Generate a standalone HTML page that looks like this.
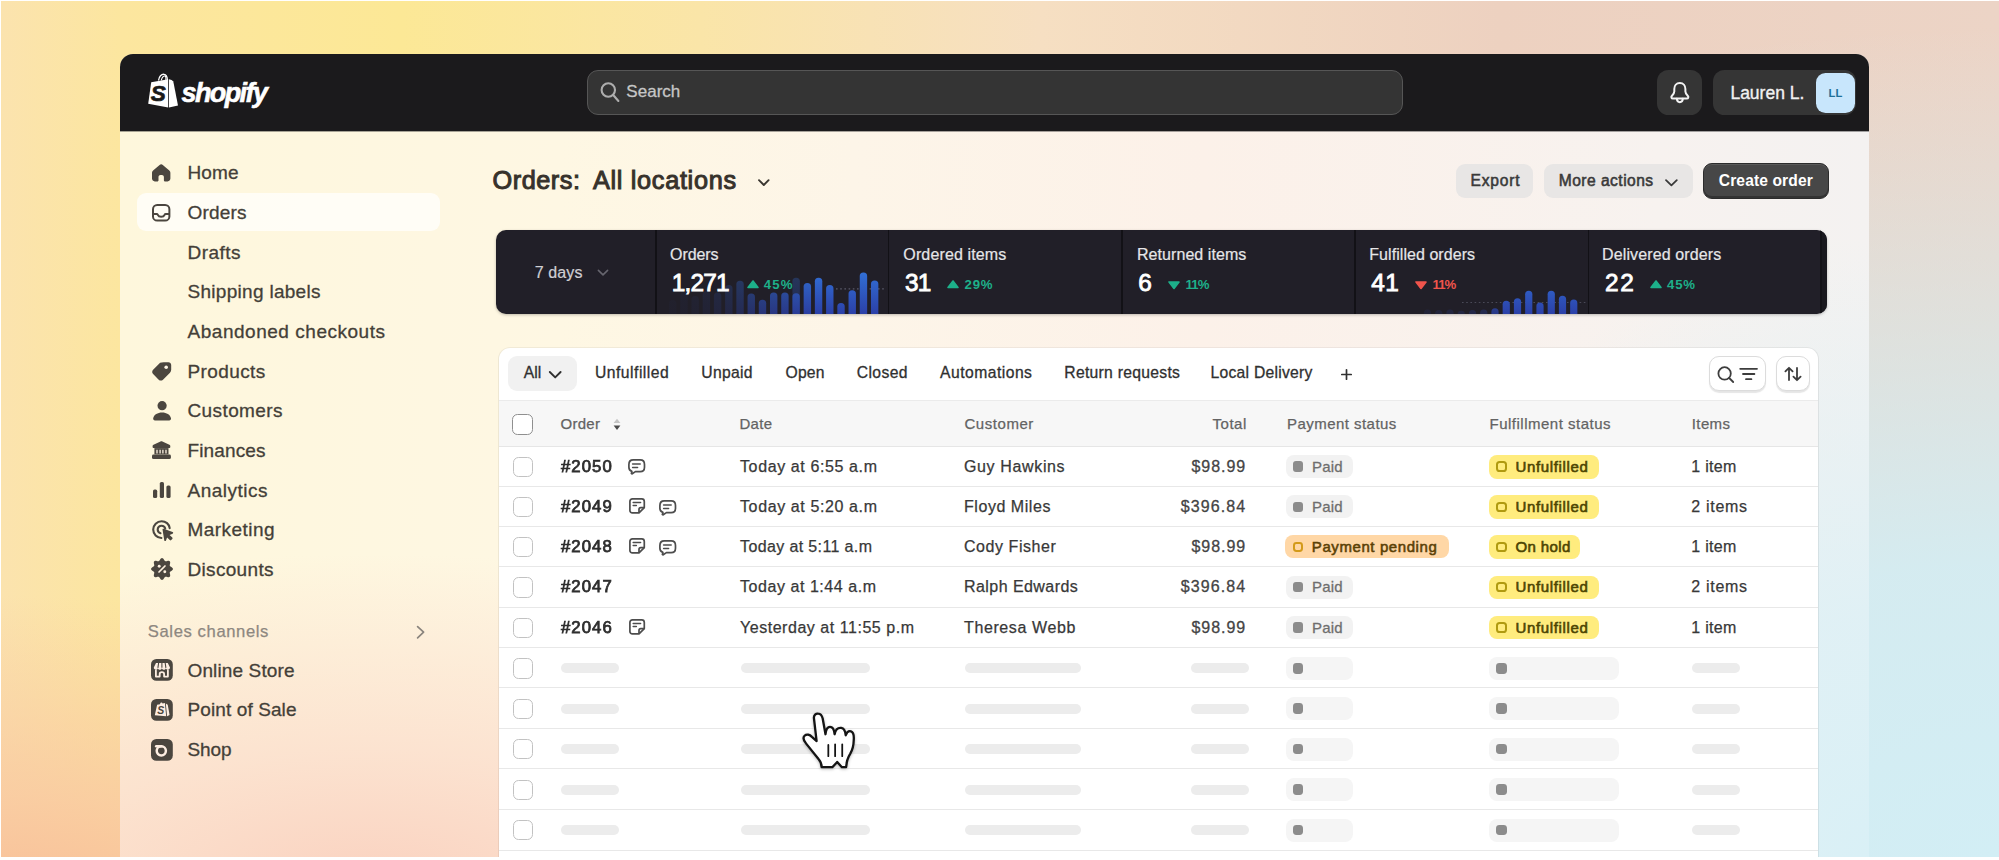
<!DOCTYPE html>
<html lang="en">
<head>
<meta charset="utf-8">
<title>Orders - Shopify</title>
<style>
*{box-sizing:border-box;margin:0;padding:0}
html,body{width:1999px;height:860px;overflow:hidden;background:#fff}
body{font-family:"Liberation Sans",sans-serif;color:#303030;position:relative}
#bg{position:absolute;left:1px;top:1px;width:1998px;height:856px;overflow:hidden;
 background:
  radial-gradient(ellipse 700px 330px at 0% 108%, rgba(248,188,150,1) 0%, rgba(249,200,160,.8) 40%, rgba(250,218,170,0) 100%),
  radial-gradient(ellipse 1300px 830px at 100% 100%, rgba(210,238,245,1) 0%, rgba(210,238,245,.9) 35%, rgba(210,238,245,0) 100%),
  linear-gradient(to right,#fbe3ae 0%,#fce69f 6%,#fce896 20%,#fae5a8 35%,#f6dfc2 52%,#edd1c0 75%,#ecd4c6 100%)}
#win{position:absolute;left:120px;top:54px;width:1749px;height:803px;border-radius:13px 13px 0 0;overflow:hidden;
 background:
  radial-gradient(ellipse 820px 330px at 250px 830px, rgba(250,210,192,1) 0%, rgba(251,218,201,.7) 40%, rgba(253,232,214,0) 100%),
  radial-gradient(ellipse 520px 620px at 100% 806px, rgba(217,240,246,1) 0%, rgba(219,240,246,.8) 40%, rgba(225,242,247,0) 100%),
  linear-gradient(to right,#fef7dc 0%,#fef7e3 25%,#fdf5e8 42%,#fcf1e9 62%,#f7f2ef 88%,#f4f2f1 100%)}
#pg{position:absolute;left:-120px;top:-54px;width:1999px;height:860px}
.t{position:absolute;white-space:pre;line-height:20px;height:20px}
.b{position:absolute;display:block}
svg{overflow:visible}
</style>
</head>
<body>
<div id="bg"></div>
<div id="win"><div id="pg">
<div class="b" style="left:120.00px;top:54.00px;width:1749.00px;height:77.00px;background:#1b1a1c"></div>
<div class="b" style="left:120.00px;top:131.00px;width:1749.00px;height:1.00px;background:rgba(27,26,28,.38)"></div>
<svg class="b" style="left:147.00px;top:72.00px" width="32" height="38" viewBox="0 0 32 38" >
<path d="M11.5 8.5 C12 4.5 14.5 2 17 2.3 C19.2 2.6 20.3 5 20.4 8" fill="none" stroke="#fff" stroke-width="1.3"/>
<path d="M14.3 8.3 C15 5.2 16.6 3.6 18 4 C19 4.4 19 6.4 18.9 8" fill="none" stroke="#fff" stroke-width="1.1"/>
<path d="M4.2 10.2 L21.2 7.2 L21.2 35.6 L1.2 31.8 Z" fill="#fff"/>
<path d="M22 7.3 L24.6 7.9 L26.3 9.4 L31 33.6 L22 35.5 Z" fill="#fff"/>
<text x="11.2" y="29.4" text-anchor="middle" font-family="Liberation Sans, sans-serif" font-weight="bold" font-style="italic" font-size="22.5" fill="#1a1a1a" stroke="#1a1a1a" stroke-width=".7">S</text>
</svg>
<div class="t" style="left:181.5px;top:77.5px;height:30px;font:italic bold 27px/30px 'Liberation Sans',sans-serif;color:#fff;letter-spacing:-1.6px;-webkit-text-stroke:.6px #fff">shopify</div>
<div class="b" style="left:587.00px;top:70.00px;width:815.50px;height:45.30px;border-radius:11px;background:#343434;border:1.5px solid #565656"></div>
<svg class="b" style="left:598.00px;top:80.00px" width="24" height="24" viewBox="0 0 24 24" fill="none" stroke="#adadad" stroke-width="2.1" stroke-linecap="round"><circle cx="10.3" cy="10" r="6.7"/><path d="M15.2 15 L20.4 21"/></svg>
<div class="t" style="font-size:17px;color:#c6c6c6;top:81.61px;letter-spacing:0.028px;-webkit-text-stroke:0.3px #c6c6c6;left:626.30px;">Search</div>
<div class="b" style="left:1656.80px;top:70.20px;width:45.40px;height:45.00px;border-radius:11.5px;background:#353535"></div>
<svg class="b" style="left:1669.80px;top:82.40px" width="19.7" height="21.3" viewBox="0 0 19.7 21.3" fill="none" stroke="#f3f3f3" stroke-width="2" stroke-linecap="round" stroke-linejoin="round"><path d="M9.85 1.1 C6.2 1.1 4.3 3.8 4.3 7 V9.6 C4.3 11.4 3.4 12.4 2 13.8 C0.8 15 1.4 16.4 2.8 16.4 H16.9 C18.3 16.4 18.9 15 17.7 13.8 C16.3 12.4 15.4 11.4 15.4 9.6 V7 C15.4 3.8 13.5 1.1 9.85 1.1 Z"/><path d="M6.9 16.8 C7 19 8.4 20.2 9.85 20.2 C11.3 20.2 12.7 19 12.8 16.8"/></svg>
<div class="b" style="left:1713.30px;top:70.20px;width:143.00px;height:45.00px;border-radius:11.5px;background:#353535"></div>
<div class="t" style="font-size:17.5px;color:#f1f1f1;top:82.84px;letter-spacing:0.007px;-webkit-text-stroke:0.35px #f1f1f1;left:1730.40px;">Lauren L.</div>
<div class="b" style="left:1815.60px;top:73.00px;width:39.60px;height:39.60px;border-radius:9.5px;background:#c8e6fc"></div>
<div class="t" style="font-size:11.2px;color:#1f7099;top:82.92px;letter-spacing:0.400px;font-weight:bold;left:1828.40px;">LL</div>
<div class="b" style="left:136.50px;top:193.00px;width:303.00px;height:38.30px;border-radius:9px;background:rgba(255,255,255,.7)"></div>
<div class="t" style="font-size:19px;color:#443f38;top:163.32px;letter-spacing:0.107px;-webkit-text-stroke:0.3px #443f38;left:187.50px;">Home</div>
<div class="t" style="font-size:19px;color:#443f38;top:202.97px;letter-spacing:0.187px;-webkit-text-stroke:0.3px #443f38;left:187.50px;">Orders</div>
<div class="t" style="font-size:19px;color:#443f38;top:242.62px;letter-spacing:0.466px;-webkit-text-stroke:0.3px #443f38;left:187.50px;">Drafts</div>
<div class="t" style="font-size:19px;color:#443f38;top:282.27px;letter-spacing:0.295px;-webkit-text-stroke:0.3px #443f38;left:187.50px;">Shipping labels</div>
<div class="t" style="font-size:19px;color:#443f38;top:321.92px;letter-spacing:0.527px;-webkit-text-stroke:0.3px #443f38;left:187.50px;">Abandoned checkouts</div>
<div class="t" style="font-size:19px;color:#443f38;top:361.57px;letter-spacing:0.403px;-webkit-text-stroke:0.3px #443f38;left:187.50px;">Products</div>
<div class="t" style="font-size:19px;color:#443f38;top:401.22px;letter-spacing:0.394px;-webkit-text-stroke:0.3px #443f38;left:187.50px;">Customers</div>
<div class="t" style="font-size:19px;color:#443f38;top:440.87px;letter-spacing:0.130px;-webkit-text-stroke:0.3px #443f38;left:187.50px;">Finances</div>
<div class="t" style="font-size:19px;color:#443f38;top:480.52px;letter-spacing:0.497px;-webkit-text-stroke:0.3px #443f38;left:187.50px;">Analytics</div>
<div class="t" style="font-size:19px;color:#443f38;top:520.17px;letter-spacing:0.448px;-webkit-text-stroke:0.3px #443f38;left:187.50px;">Marketing</div>
<div class="t" style="font-size:19px;color:#443f38;top:559.82px;letter-spacing:0.323px;-webkit-text-stroke:0.3px #443f38;left:187.50px;">Discounts</div>
<div class="t" style="font-size:19px;color:#443f38;top:660.52px;letter-spacing:0.127px;-webkit-text-stroke:0.3px #443f38;left:187.50px;">Online Store</div>
<div class="t" style="font-size:19px;color:#443f38;top:700.12px;letter-spacing:0.106px;-webkit-text-stroke:0.3px #443f38;left:187.50px;">Point of Sale</div>
<div class="t" style="font-size:19px;color:#443f38;top:739.72px;letter-spacing:-0.124px;-webkit-text-stroke:0.3px #443f38;left:187.50px;">Shop</div>
<div class="t" style="font-size:16.6px;color:#8d8780;top:621.75px;letter-spacing:0.617px;-webkit-text-stroke:0.25px #8d8780;left:147.80px;">Sales channels</div>
<svg class="b" style="left:415.00px;top:625.00px" width="12" height="14" viewBox="0 0 12 14" fill="none" stroke="#8a847d" stroke-width="1.7" stroke-linecap="round" stroke-linejoin="round"><path d="M2.6 1.6 L8.6 7.2 L2.6 12.8"/></svg>
<svg class="b" style="left:152.40px;top:163.60px" width="18.4" height="17.4" viewBox="0 0 18.4 17.4" ><path fill="#4b463f" d="M9.2 0.2 C9.8 0.2 10.3 0.5 10.8 0.9 L17.3 6.5 C18 7.1 18.4 7.9 18.4 8.8 V14.6 C18.4 16.2 17.2 17.4 15.6 17.4 H12.7 C12.2 17.4 11.9 17.1 11.9 16.6 V12.9 C11.9 11.8 11 10.9 9.9 10.9 H8.5 C7.4 10.9 6.5 11.8 6.5 12.9 V16.6 C6.5 17.1 6.2 17.4 5.7 17.4 H2.8 C1.2 17.4 0 16.2 0 14.6 V8.8 C0 7.9 0.4 7.1 1.1 6.5 L7.6 0.9 C8.1 0.5 8.6 0.2 9.2 0.2 Z"/></svg>
<svg class="b" style="left:152.40px;top:204.20px" width="18.4" height="17.6" viewBox="0 0 18.4 17.6" ><rect x="1" y="1" width="16.4" height="15.6" rx="4.2" fill="none" stroke="#4b463f" stroke-width="2"/><path d="M1 10 H4.6 C5.2 10 5.6 10.3 5.8 10.8 C6.3 12 7.5 12.8 9.2 12.8 C10.9 12.8 12.1 12 12.6 10.8 C12.8 10.3 13.2 10 13.8 10 H17.4" fill="none" stroke="#4b463f" stroke-width="2"/></svg>
<svg class="b" style="left:152.20px;top:361.80px" width="19.4" height="18.8" viewBox="0 0 19.4 18.8" ><path fill="#4b463f" d="M11.6 0.2 H16.4 C18 0.2 19.2 1.4 19.2 3 V7.8 C19.2 8.9 18.8 9.9 18 10.7 L11 17.7 C9.8 18.9 7.9 18.9 6.7 17.7 L1.1 12.1 C-0.1 10.9 -0.1 9 1.1 7.8 L8.1 0.8 C9 0.4 10.4 0.2 11.6 0.2 Z"/><circle cx="14.2" cy="5.2" r="1.8" fill="#fef6e6"/></svg>
<svg class="b" style="left:152.60px;top:401.00px" width="18.2" height="19.6" viewBox="0 0 18.2 19.6" ><circle cx="9.1" cy="4.7" r="4.6" fill="#4b463f"/><path fill="#4b463f" d="M9.1 11.6 C13.6 11.6 17.2 13.8 18 17.3 C18.3 18.5 17.4 19.5 16.2 19.5 H2 C0.8 19.5 -0.1 18.5 0.2 17.3 C1 13.8 4.6 11.6 9.1 11.6 Z"/></svg>
<svg class="b" style="left:152.20px;top:440.60px" width="18.9" height="18" viewBox="0 0 18.9 18" ><path fill="#4b463f" d="M8.5 0.4 C9.1 0.1 9.8 0.1 10.4 0.4 L17.4 3.7 C18 4 18.3 4.5 18.3 5.1 V6 C18.3 6.6 17.8 7.1 17.2 7.1 H1.7 C1.1 7.1 0.6 6.6 0.6 6 V5.1 C0.6 4.5 0.9 4 1.5 3.7 Z"/><path fill="#4b463f" d="M2.4 7.1 H16.5 V13.4 H2.4 Z"/><path d="M5 8.8 V12.6 M8.1 8.8 V12.6 M10.9 8.8 V12.6 M14 8.8 V12.6" stroke="#fdf3e2" stroke-width="1.3"/><rect x="0" y="13.6" width="18.9" height="4.3" rx="1.5" fill="#4b463f"/></svg>
<svg class="b" style="left:152.60px;top:481.80px" width="17.6" height="16" viewBox="0 0 17.6 16" ><rect x="0" y="7.6" width="4.2" height="8.4" rx="1.6" fill="#4b463f"/><rect x="6.8" y="0" width="4.2" height="16" rx="1.6" fill="#4b463f"/><rect x="13.4" y="3.4" width="4.2" height="12.6" rx="1.6" fill="#4b463f"/></svg>
<svg class="b" style="left:151.60px;top:519.60px" width="21.4" height="21" viewBox="0 0 21.4 21" ><path d="M17.7 8.2 C17.2 4.1 13.8 1.2 9.6 1.2 C5 1.2 1.2 5 1.2 9.6 C1.2 14.2 4.9 17.9 9.4 18" fill="none" stroke="#4b463f" stroke-width="2.1" stroke-linecap="round"/><path d="M13.2 8.6 C12.8 6.9 11.3 5.7 9.6 5.7 C7.4 5.7 5.7 7.4 5.7 9.6 C5.7 11.4 6.9 12.9 8.5 13.3" fill="none" stroke="#4b463f" stroke-width="2.1" stroke-linecap="round"/><path fill="#4b463f" d="M10.6 9.9 C10.3 9.2 11 8.5 11.7 8.8 L20.6 12.1 C21.4 12.4 21.4 13.5 20.6 13.8 L17.6 14.9 L20.3 17.6 C20.7 18 20.7 18.6 20.3 19 L19.2 20.1 C18.8 20.5 18.2 20.5 17.8 20.1 L15.1 17.4 L14 20.4 C13.7 21.2 12.6 21.2 12.3 20.4 Z"/></svg>
<svg class="b" style="left:150.80px;top:558.00px" width="22" height="22" viewBox="0 0 22 22" ><path fill="#4b463f" d="M11.00 0.05 L11.57 0.17 L12.10 0.52 L12.58 1.04 L12.99 1.64 L13.35 2.23 L13.68 2.74 L14.04 3.09 L14.45 3.26 L14.94 3.26 L15.54 3.14 L16.21 2.97 L16.93 2.84 L17.63 2.81 L18.25 2.94 L18.74 3.26 L19.06 3.75 L19.19 4.37 L19.16 5.07 L19.03 5.79 L18.86 6.46 L18.74 7.06 L18.74 7.55 L18.91 7.96 L19.26 8.32 L19.77 8.65 L20.36 9.01 L20.96 9.42 L21.48 9.90 L21.83 10.43 L21.95 11.00 L21.83 11.57 L21.48 12.10 L20.96 12.58 L20.36 12.99 L19.77 13.35 L19.26 13.68 L18.91 14.04 L18.74 14.45 L18.74 14.94 L18.86 15.54 L19.03 16.21 L19.16 16.93 L19.19 17.63 L19.06 18.25 L18.74 18.74 L18.25 19.06 L17.63 19.19 L16.93 19.16 L16.21 19.03 L15.54 18.86 L14.94 18.74 L14.45 18.74 L14.04 18.91 L13.68 19.26 L13.35 19.77 L12.99 20.36 L12.58 20.96 L12.10 21.48 L11.57 21.83 L11.00 21.95 L10.43 21.83 L9.90 21.48 L9.42 20.96 L9.01 20.36 L8.65 19.77 L8.32 19.26 L7.96 18.91 L7.55 18.74 L7.06 18.74 L6.46 18.86 L5.79 19.03 L5.07 19.16 L4.37 19.19 L3.75 19.06 L3.26 18.74 L2.94 18.25 L2.81 17.63 L2.84 16.93 L2.97 16.21 L3.14 15.54 L3.26 14.94 L3.26 14.45 L3.09 14.04 L2.74 13.68 L2.23 13.35 L1.64 12.99 L1.04 12.58 L0.52 12.10 L0.17 11.57 L0.05 11.00 L0.17 10.43 L0.52 9.90 L1.04 9.42 L1.64 9.01 L2.23 8.65 L2.74 8.32 L3.09 7.96 L3.26 7.55 L3.26 7.06 L3.14 6.46 L2.97 5.79 L2.84 5.07 L2.81 4.37 L2.94 3.75 L3.26 3.26 L3.75 2.94 L4.37 2.81 L5.07 2.84 L5.79 2.97 L6.46 3.14 L7.06 3.26 L7.55 3.26 L7.96 3.09 L8.32 2.74 L8.65 2.23 L9.01 1.64 L9.42 1.04 L9.90 0.52 L10.43 0.17 Z"/><path d="M8 14 L14 8" stroke="#fdf1e0" stroke-width="1.7" stroke-linecap="round"/><circle cx="8.2" cy="8.3" r="1.45" fill="#fdf1e0"/><circle cx="13.8" cy="13.7" r="1.45" fill="#fdf1e0"/></svg>
<svg class="b" style="left:150.80px;top:659.40px" width="21.8" height="21.8" viewBox="0 0 21.8 21.8" ><rect width="21.8" height="21.8" rx="5.4" fill="#4b463f"/><path d="M5 3.9 H16.8 L19 8.6 C19 9.9 18 10.8 16.9 10.8 C15.8 10.8 14.9 10 14.9 9 C14.9 10 14 10.8 12.9 10.8 C11.8 10.8 10.9 10 10.9 9 C10.9 10 10 10.8 8.9 10.8 C7.8 10.8 6.9 10 6.9 9 C6.9 10 6 10.8 4.9 10.8 C3.8 10.8 2.8 9.9 2.8 8.6 Z" fill="#fdeee2"/><path d="M7.6 4 L6.9 8.8 M10.9 4 V8.8 M14.2 4 L14.9 8.8" stroke="#4b463f" stroke-width="1.1"/><path d="M4.9 11.4 V17.6 H8.7 V15 C8.7 13.9 9.6 13.2 10.9 13.2 C12.2 13.2 13.1 13.9 13.1 15 V17.6 H16.9 V11.4" fill="none" stroke="#fdeee2" stroke-width="1.8" stroke-linejoin="round" stroke-linecap="round"/></svg>
<svg class="b" style="left:150.80px;top:699.00px" width="21.8" height="21.8" viewBox="0 0 21.8 21.8" ><rect width="21.8" height="21.8" rx="5.4" fill="#4b463f"/><path d="M6.1 5.8 L9 5.2 C9.2 4.2 9.8 3.6 10.4 3.6 C11 3.6 11.4 4 11.6 4.6 L13.9 4.1 L15.2 17.3 L3.8 16.2 Z" fill="#fdeee2"/><path d="M14.8 4.4 L16.7 5.8 L18.6 15.9 L16.1 17.2 Z" fill="#fdeee2"/><text x="9.7" y="14.6" text-anchor="middle" font-family="Liberation Sans, sans-serif" font-weight="bold" font-style="italic" font-size="10.5" fill="#4b463f">S</text></svg>
<svg class="b" style="left:150.80px;top:738.60px" width="21.8" height="21.8" viewBox="0 0 21.8 21.8" ><rect width="21.8" height="21.8" rx="5.4" fill="#4b463f"/><circle cx="10.3" cy="11.8" r="4.6" fill="none" stroke="#fdeee2" stroke-width="2.5"/><path d="M5.2 7.2 H10.3" stroke="#fdeee2" stroke-width="2.5" stroke-linecap="round"/></svg>
<div class="t" style="font-size:25.3px;color:#37322b;top:170.43px;letter-spacing:0.526px;-webkit-text-stroke:1.0px #37322b;left:492.50px;">Orders:</div>
<div class="t" style="font-size:25.3px;color:#37322b;top:170.43px;letter-spacing:0.684px;-webkit-text-stroke:1.0px #37322b;left:592.90px;">All locations</div>
<svg class="b" style="left:757.00px;top:178.00px" width="14" height="10" viewBox="0 0 14 10" fill="none" stroke="#3b3731" stroke-width="1.9" stroke-linecap="round" stroke-linejoin="round"><path d="M2 2.2 L6.8 7 L11.6 2.2"/></svg>
<div class="b" style="left:1456.40px;top:163.70px;width:77.10px;height:34.60px;border-radius:9px;background:#e8e6e5"></div>
<div class="t" style="font-size:15.6px;color:#3a3a3a;top:170.69px;letter-spacing:0.783px;-webkit-text-stroke:0.55px #3a3a3a;left:1470.50px;">Export</div>
<div class="b" style="left:1544.20px;top:163.70px;width:149.00px;height:34.60px;border-radius:9px;background:#e8e6e5"></div>
<div class="t" style="font-size:15.6px;color:#3a3a3a;top:170.69px;letter-spacing:0.473px;-webkit-text-stroke:0.55px #3a3a3a;left:1558.70px;">More actions</div>
<svg class="b" style="left:1664.00px;top:178.00px" width="15" height="10" viewBox="0 0 15 10" fill="none" stroke="#3a3a3a" stroke-width="1.8" stroke-linecap="round" stroke-linejoin="round"><path d="M2 2.2 L7.4 7.4 L12.8 2.2"/></svg>
<div class="b" style="left:1703.00px;top:163.00px;width:126.20px;height:35.80px;border-radius:9px;background:#474747;border:1.5px solid #2c2c2c;box-shadow:inset 0 -2px 0 #333,inset 0 1px 0 #5a5a5a"></div>
<div class="t" style="font-size:15.6px;color:#ffffff;top:171.19px;letter-spacing:0.112px;font-weight:bold;left:1718.80px;">Create order</div>
<div class="b" style="left:495.8px;top:230.2px;width:1331.4px;height:84.2px;border-radius:10px;background:#211f28;overflow:hidden;box-shadow:0 1px 3px rgba(0,0,0,.25)"><div id="st" style="position:absolute;left:-495.8px;top:-230.2px;width:1999px;height:860px">
<svg class="b" style="left:0;top:0" width="1999" height="860" viewBox="0 0 1999 860"><defs><linearGradient id="bg1" x1="0" y1="270" x2="0" y2="316" gradientUnits="userSpaceOnUse"><stop offset="0" stop-color="#3272d8"/><stop offset="1" stop-color="#2b3ea6"/></linearGradient></defs><path d="M836 288.8 H884" stroke="#5a5a6a" stroke-width="1.2" stroke-dasharray="1.6 2.6"/><path d="M1462 302.5 H1586" stroke="#4a4a58" stroke-width="1.2" stroke-dasharray="1.6 2.6"/><rect x="702.69" y="291.33" width="7.4" height="27.27" rx="3.6" fill="url(#bg1)" opacity="0.1"/><rect x="713.91" y="292.38" width="7.4" height="26.22" rx="3.6" fill="url(#bg1)" opacity="0.16"/><rect x="725.12" y="285.03" width="7.4" height="33.57" rx="3.6" fill="url(#bg1)" opacity="0.22"/><rect x="736.34" y="280.82" width="7.4" height="37.78" rx="3.6" fill="url(#bg1)" opacity="0.34"/><rect x="747.56" y="293.43" width="7.4" height="25.17" rx="3.6" fill="url(#bg1)" opacity="0.5"/><rect x="758.78" y="299.73" width="7.4" height="18.87" rx="3.6" fill="url(#bg1)" opacity="0.62"/><rect x="770.00" y="292.38" width="7.4" height="26.22" rx="3.6" fill="url(#bg1)" opacity="0.7"/><rect x="781.22" y="292.38" width="7.4" height="26.22" rx="3.6" fill="url(#bg1)" opacity="0.75"/><rect x="792.43" y="277.67" width="7.4" height="40.93" rx="3.6" fill="url(#bg1)" opacity="0.3"/><rect x="803.65" y="282.92" width="7.4" height="35.68" rx="3.6" fill="url(#bg1)" opacity="0.95"/><rect x="814.87" y="277.67" width="7.4" height="40.93" rx="3.6" fill="url(#bg1)" opacity="1"/><rect x="826.09" y="285.03" width="7.4" height="33.57" rx="3.6" fill="url(#bg1)" opacity="1"/><rect x="837.31" y="302.88" width="7.4" height="15.72" rx="3.6" fill="url(#bg1)" opacity="1"/><rect x="848.53" y="290.28" width="7.4" height="28.32" rx="3.6" fill="url(#bg1)" opacity="1"/><rect x="859.75" y="272.42" width="7.4" height="46.18" rx="3.6" fill="url(#bg1)" opacity="1"/><rect x="870.96" y="280.40" width="7.4" height="38.20" rx="3.6" fill="url(#bg1)" opacity="1"/><rect x="792.43" y="293.20" width="7.4" height="25.40" rx="3.6" fill="url(#bg1)" opacity="0.8"/><rect x="691.48" y="296.00" width="7.4" height="22.60" rx="3.6" fill="url(#bg1)" opacity="0.07"/><rect x="680.26" y="292.00" width="7.4" height="26.60" rx="3.6" fill="url(#bg1)" opacity="0.05"/><rect x="669.04" y="300.00" width="7.4" height="18.60" rx="3.6" fill="url(#bg1)" opacity="0.035"/><rect x="1423.90" y="309.50" width="7.2" height="9.10" rx="3.6" fill="url(#bg1)" opacity="0.12"/><rect x="1435.15" y="310.00" width="7.2" height="8.60" rx="3.6" fill="url(#bg1)" opacity="0.15"/><rect x="1446.40" y="309.50" width="7.2" height="9.10" rx="3.6" fill="url(#bg1)" opacity="0.18"/><rect x="1457.65" y="310.75" width="7.2" height="7.85" rx="3.6" fill="url(#bg1)" opacity="0.2"/><rect x="1468.90" y="310.00" width="7.2" height="8.60" rx="3.6" fill="url(#bg1)" opacity="0.25"/><rect x="1480.15" y="309.50" width="7.2" height="9.10" rx="3.6" fill="url(#bg1)" opacity="0.3"/><rect x="1491.40" y="308.25" width="7.2" height="10.35" rx="3.6" fill="url(#bg1)" opacity="0.75"/><rect x="1502.65" y="300.75" width="7.2" height="17.85" rx="3.6" fill="url(#bg1)" opacity="1"/><rect x="1513.90" y="298.25" width="7.2" height="20.35" rx="3.6" fill="url(#bg1)" opacity="1"/><rect x="1525.15" y="290.75" width="7.2" height="27.85" rx="3.6" fill="url(#bg1)" opacity="1"/><rect x="1536.40" y="302.50" width="7.2" height="16.10" rx="3.6" fill="url(#bg1)" opacity="1"/><rect x="1547.65" y="290.75" width="7.2" height="27.85" rx="3.6" fill="url(#bg1)" opacity="1"/><rect x="1558.90" y="295.75" width="7.2" height="22.85" rx="3.6" fill="url(#bg1)" opacity="1"/><rect x="1570.15" y="299.50" width="7.2" height="19.10" rx="3.6" fill="url(#bg1)" opacity="1"/></svg>
<div class="b" style="left:655.00px;top:230.00px;width:1.80px;height:85.00px;background:#121116"></div>
<div class="b" style="left:887.50px;top:230.00px;width:1.80px;height:85.00px;background:#121116"></div>
<div class="b" style="left:1120.90px;top:230.00px;width:1.80px;height:85.00px;background:#121116"></div>
<div class="b" style="left:1354.40px;top:230.00px;width:1.80px;height:85.00px;background:#121116"></div>
<div class="b" style="left:1587.50px;top:230.00px;width:1.80px;height:85.00px;background:#121116"></div>
<div class="b" style="left:1820.10px;top:230.00px;width:1.80px;height:85.00px;background:#121116"></div>
<div class="b" style="left:1821.50px;top:230.00px;width:6.00px;height:85.00px;background:#19181e"></div>
<div class="t" style="font-size:16px;color:#cfcfd4;top:262.76px;letter-spacing:0.113px;-webkit-text-stroke:0.2px #cfcfd4;left:534.70px;">7 days</div>
<svg class="b" style="left:596.00px;top:268.00px" width="14" height="10" viewBox="0 0 14 10" fill="none" stroke="#66656e" stroke-width="1.6" stroke-linecap="round" stroke-linejoin="round"><path d="M2.4 2.4 L7 6.8 L11.6 2.4"/></svg>
<div class="t" style="font-size:16px;color:#e6e6e8;top:245.06px;letter-spacing:-0.059px;-webkit-text-stroke:0.2px #e6e6e8;left:670.00px;">Orders</div>
<div class="t" style="font-size:24.4px;color:#ffffff;top:273.45px;letter-spacing:-0.763px;-webkit-text-stroke:0.85px #ffffff;left:671.70px;">1,271</div>
<svg class="b" style="left:747.40px;top:280.20px" width="12" height="8.4" viewBox="0 0 12 8.4" ><path d="M6 1 L11 7.4 H1 Z" fill="#1db08a" stroke="#1db08a" stroke-width="1.6" stroke-linejoin="round"/></svg>
<div class="t" style="font-size:13.2px;color:#1db08a;top:274.53px;letter-spacing:1.191px;font-weight:bold;left:763.70px;">45%</div>
<div class="t" style="font-size:16px;color:#e6e6e8;top:245.06px;letter-spacing:0.137px;-webkit-text-stroke:0.2px #e6e6e8;left:903.30px;">Ordered items</div>
<div class="t" style="font-size:24.4px;color:#ffffff;top:273.45px;letter-spacing:-0.837px;-webkit-text-stroke:0.85px #ffffff;left:905.00px;">31</div>
<svg class="b" style="left:947.20px;top:280.20px" width="12" height="8.4" viewBox="0 0 12 8.4" ><path d="M6 1 L11 7.4 H1 Z" fill="#1db08a" stroke="#1db08a" stroke-width="1.6" stroke-linejoin="round"/></svg>
<div class="t" style="font-size:13.2px;color:#1db08a;top:274.53px;letter-spacing:0.791px;font-weight:bold;left:964.50px;">29%</div>
<div class="t" style="font-size:16px;color:#e6e6e8;top:245.06px;letter-spacing:0.063px;-webkit-text-stroke:0.2px #e6e6e8;left:1137.00px;">Returned items</div>
<div class="t" style="font-size:24.4px;color:#ffffff;top:273.45px;-webkit-text-stroke:0.85px #ffffff;left:1138.30px;">6</div>
<svg class="b" style="left:1168.30px;top:280.60px" width="12" height="8.4" viewBox="0 0 12 8.4" ><path d="M1 1 H11 L6 7.4 Z" fill="#1db08a" stroke="#1db08a" stroke-width="1.6" stroke-linejoin="round"/></svg>
<div class="t" style="font-size:13.2px;color:#1db08a;top:274.53px;letter-spacing:-0.845px;font-weight:bold;left:1185.50px;">11%</div>
<div class="t" style="font-size:16px;color:#e6e6e8;top:245.06px;letter-spacing:0.052px;-webkit-text-stroke:0.2px #e6e6e8;left:1369.30px;">Fulfilled orders</div>
<div class="t" style="font-size:24.4px;color:#ffffff;top:273.45px;letter-spacing:0.363px;-webkit-text-stroke:0.85px #ffffff;left:1371.30px;">41</div>
<svg class="b" style="left:1415.00px;top:280.60px" width="12" height="8.4" viewBox="0 0 12 8.4" ><path d="M1 1 H11 L6 7.4 Z" fill="#f0544c" stroke="#f0544c" stroke-width="1.6" stroke-linejoin="round"/></svg>
<div class="t" style="font-size:13.2px;color:#f0544c;top:274.53px;letter-spacing:-0.945px;font-weight:bold;left:1432.50px;">11%</div>
<div class="t" style="font-size:16px;color:#e6e6e8;top:245.06px;letter-spacing:0.128px;-webkit-text-stroke:0.2px #e6e6e8;left:1602.00px;">Delivered orders</div>
<div class="t" style="font-size:24.4px;color:#ffffff;top:273.45px;letter-spacing:1.663px;-webkit-text-stroke:0.85px #ffffff;left:1605.00px;">22</div>
<svg class="b" style="left:1650.00px;top:280.20px" width="12" height="8.4" viewBox="0 0 12 8.4" ><path d="M6 1 L11 7.4 H1 Z" fill="#1db08a" stroke="#1db08a" stroke-width="1.6" stroke-linejoin="round"/></svg>
<div class="t" style="font-size:13.2px;color:#1db08a;top:274.53px;letter-spacing:0.791px;font-weight:bold;left:1667.00px;">45%</div>
</div></div>
<div class="b" style="left:498.80px;top:348.00px;width:1319.60px;height:520.00px;border-radius:11px 11px 0 0;background:#fff;box-shadow:0 0 0 1px rgba(0,0,0,.05),0 1px 2px rgba(0,0,0,.06)"></div>
<div class="b" style="left:508.00px;top:356.30px;width:68.80px;height:34.50px;border-radius:9px;background:#f1f1f1"></div>
<div class="t" style="font-size:15.7px;color:#303030;top:363.26px;letter-spacing:0.025px;-webkit-text-stroke:0.3px #303030;left:523.80px;">All</div>
<svg class="b" style="left:547.60px;top:370.00px" width="14" height="10" viewBox="0 0 14 10" fill="none" stroke="#303030" stroke-width="1.9" stroke-linecap="round" stroke-linejoin="round"><path d="M1.8 2 L7.2 7.4 L12.6 2"/></svg>
<div class="t" style="font-size:15.7px;color:#303030;top:363.26px;letter-spacing:0.486px;-webkit-text-stroke:0.3px #303030;left:595.00px;">Unfulfilled</div>
<div class="t" style="font-size:15.7px;color:#303030;top:363.26px;letter-spacing:0.290px;-webkit-text-stroke:0.3px #303030;left:701.30px;">Unpaid</div>
<div class="t" style="font-size:15.7px;color:#303030;top:363.26px;letter-spacing:0.199px;-webkit-text-stroke:0.3px #303030;left:785.50px;">Open</div>
<div class="t" style="font-size:15.7px;color:#303030;top:363.26px;letter-spacing:0.366px;-webkit-text-stroke:0.3px #303030;left:856.80px;">Closed</div>
<div class="t" style="font-size:15.7px;color:#303030;top:363.26px;letter-spacing:0.473px;-webkit-text-stroke:0.3px #303030;left:940.00px;">Automations</div>
<div class="t" style="font-size:15.7px;color:#303030;top:363.26px;letter-spacing:0.286px;-webkit-text-stroke:0.3px #303030;left:1064.30px;">Return requests</div>
<div class="t" style="font-size:15.7px;color:#303030;top:363.26px;letter-spacing:0.262px;-webkit-text-stroke:0.3px #303030;left:1210.50px;">Local Delivery</div>
<svg class="b" style="left:1341.00px;top:368.50px" width="11" height="11" viewBox="0 0 11 11" fill="none" stroke="#303030" stroke-width="1.7" stroke-linecap="round"><path d="M5.5 0.8 V10.2 M0.8 5.5 H10.2"/></svg>
<div class="b" style="left:1708.60px;top:356.30px;width:57.20px;height:35.00px;border-radius:10px;background:#fff;border:1.3px solid #dcdcdc;box-shadow:0 1.5px 1px rgba(0,0,0,.10)"></div>
<svg class="b" style="left:1716.00px;top:365.00px" width="44" height="18" viewBox="0 0 44 18" fill="none" stroke="#3d3d3d" stroke-width="1.8" stroke-linecap="round"><circle cx="8.6" cy="8.4" r="6.2"/><path d="M13.2 13 L17.2 17"/><path d="M24.2 3.8 H41 M27 9 H38.4 M30 14.2 H35.4"/></svg>
<div class="b" style="left:1775.80px;top:356.30px;width:34.60px;height:35.00px;border-radius:10px;background:#fff;border:1.3px solid #dcdcdc;box-shadow:0 1.5px 1px rgba(0,0,0,.10)"></div>
<svg class="b" style="left:1784.00px;top:365.00px" width="18" height="18" viewBox="0 0 18 18" fill="none" stroke="#3d3d3d" stroke-width="1.8" stroke-linecap="round" stroke-linejoin="round"><path d="M5 15 V3 M1.4 6.4 L5 2.8 L8.6 6.4 M13 3 V15 M9.4 11.6 L13 15.2 L16.6 11.6"/></svg>
<div class="b" style="left:498.80px;top:400.20px;width:1319.60px;height:46.60px;background:#f7f7f7;border-top:1.3px solid #ebebeb;border-bottom:1.3px solid #e6e6e6"></div>
<div class="t" style="font-size:15px;color:#636363;top:413.60px;letter-spacing:0.290px;-webkit-text-stroke:0.25px #636363;left:560.50px;">Order</div>
<div class="t" style="font-size:15px;color:#636363;top:413.60px;letter-spacing:0.272px;-webkit-text-stroke:0.25px #636363;left:739.50px;">Date</div>
<div class="t" style="font-size:15px;color:#636363;top:413.60px;letter-spacing:0.541px;-webkit-text-stroke:0.25px #636363;left:964.50px;">Customer</div>
<div class="t" style="font-size:15px;color:#636363;top:413.60px;letter-spacing:0.529px;-webkit-text-stroke:0.25px #636363;left:1212.50px;">Total</div>
<div class="t" style="font-size:15px;color:#636363;top:413.60px;letter-spacing:0.456px;-webkit-text-stroke:0.25px #636363;left:1287.00px;">Payment status</div>
<div class="t" style="font-size:15px;color:#636363;top:413.60px;letter-spacing:0.498px;-webkit-text-stroke:0.25px #636363;left:1489.50px;">Fulfillment status</div>
<div class="t" style="font-size:15px;color:#636363;top:413.60px;letter-spacing:0.382px;-webkit-text-stroke:0.25px #636363;left:1691.80px;">Items</div>
<svg class="b" style="left:612.50px;top:418.00px" width="8" height="13" viewBox="0 0 8 13" ><path d="M0.6 5 L4 0.8 L7.4 5 Z" fill="#c4c4c4"/><path d="M0.6 7.6 H7.4 L4 12 Z" fill="#4a4a4a"/></svg>
<div class="b" style="left:512.40px;top:414.40px;width:20.20px;height:20.20px;border-radius:5.5px;background:#fff;border:1.4px solid #8f8f8f"></div>
<div class="b" style="left:498.80px;top:486.00px;width:1319.60px;height:1.00px;background:#e8e8e8"></div>
<div class="b" style="left:512.60px;top:457.05px;width:20.20px;height:20.20px;border-radius:5.5px;background:#fff;border:1.4px solid #c2c2c2"></div>
<div class="t" style="font-size:15.8px;color:#2e2e2e;top:456.68px;letter-spacing:0.998px;-webkit-text-stroke:0.75px #2e2e2e;transform:scaleX(1.06);transform-origin:0 0;left:560.50px;">#2050</div>
<svg class="b" style="left:628.40px;top:459.45px" width="17.4" height="15.6" viewBox="0 0 17.4 15.6" ><path d="M5.2 0.9 H12.2 C14.9 0.9 16.5 2.9 16.5 5.4 V8.2 C16.5 10.7 14.9 12.6 12.2 12.6 H7.4 L4.2 14.7 C3.7 15 3.2 14.6 3.4 14.1 L3.9 12.4 C2 11.9 0.9 10.2 0.9 8.2 V5.4 C0.9 2.9 2.5 0.9 5.2 0.9 Z" fill="none" stroke="#4d4d4d" stroke-width="1.7" stroke-linejoin="round"/><path d="M4.6 5.1 H12.2 M4.6 8.4 H9.6" stroke="#4d4d4d" stroke-width="1.5" stroke-linecap="round"/></svg>
<div class="t" style="font-size:16px;color:#383838;top:456.61px;letter-spacing:0.614px;-webkit-text-stroke:0.25px #383838;left:740.00px;">Today at 6:55 a.m</div>
<div class="t" style="font-size:16px;color:#383838;top:456.61px;letter-spacing:0.635px;-webkit-text-stroke:0.25px #383838;left:964.00px;">Guy Hawkins</div>
<div class="t" style="font-size:16px;color:#444444;top:456.61px;letter-spacing:0.954px;-webkit-text-stroke:0.3px #444444;left:1191.50px;">$98.99</div>
<div class="b" style="left:1286.30px;top:455.35px;width:66.80px;height:22.80px;border-radius:8px;background:#f2f2f2"></div>
<div class="b" style="left:1292.60px;top:461.45px;width:10.40px;height:10.40px;border-radius:3px;background:#8c8c8c"></div>
<div class="t" style="font-size:15px;color:#6e6e6e;top:456.75px;letter-spacing:0.160px;-webkit-text-stroke:0.3px #6e6e6e;left:1312.00px;">Paid</div>
<div class="b" style="left:1488.80px;top:455.15px;width:110.60px;height:23.40px;border-radius:8px;background:#ffec7e"></div>
<div class="b" style="left:1496.40px;top:461.45px;width:10.40px;height:10.40px;border-radius:3.6px;border:2.2px solid #b09a10"></div>
<div class="t" style="font-size:15px;color:#4d4503;top:456.95px;letter-spacing:0.664px;-webkit-text-stroke:0.6px #4d4503;left:1515.40px;">Unfulfilled</div>
<div class="t" style="font-size:16px;color:#383838;top:456.61px;letter-spacing:0.286px;-webkit-text-stroke:0.25px #383838;left:1691.30px;">1 item</div>
<div class="b" style="left:498.80px;top:526.00px;width:1319.60px;height:1.00px;background:#e8e8e8"></div>
<div class="b" style="left:512.60px;top:497.10px;width:20.20px;height:20.20px;border-radius:5.5px;background:#fff;border:1.4px solid #c2c2c2"></div>
<div class="t" style="font-size:15.8px;color:#2e2e2e;top:496.73px;letter-spacing:0.998px;-webkit-text-stroke:0.75px #2e2e2e;transform:scaleX(1.06);transform-origin:0 0;left:560.50px;">#2049</div>
<svg class="b" style="left:629.20px;top:498.40px" width="16.2" height="15.8" viewBox="0 0 16.2 15.8" ><path d="M3.4 0.9 H12.8 C14.3 0.9 15.3 1.9 15.3 3.4 V9.6 L10 14.9 H3.4 C1.9 14.9 0.9 13.9 0.9 12.4 V3.4 C0.9 1.9 1.9 0.9 3.4 0.9 Z" fill="none" stroke="#4d4d4d" stroke-width="1.7" stroke-linejoin="round"/><path d="M15.3 9.6 H11.8 C10.8 9.6 10 10.4 10 11.4 V14.9" fill="none" stroke="#4d4d4d" stroke-width="1.7" stroke-linejoin="round"/><path d="M4.2 4.6 H11.6 M4.2 7.6 H7.4" stroke="#4d4d4d" stroke-width="1.5" stroke-linecap="round"/></svg>
<svg class="b" style="left:659.00px;top:499.80px" width="17.4" height="15.6" viewBox="0 0 17.4 15.6" ><path d="M5.2 0.9 H12.2 C14.9 0.9 16.5 2.9 16.5 5.4 V8.2 C16.5 10.7 14.9 12.6 12.2 12.6 H7.4 L4.2 14.7 C3.7 15 3.2 14.6 3.4 14.1 L3.9 12.4 C2 11.9 0.9 10.2 0.9 8.2 V5.4 C0.9 2.9 2.5 0.9 5.2 0.9 Z" fill="none" stroke="#4d4d4d" stroke-width="1.7" stroke-linejoin="round"/><path d="M4.6 5.1 H12.2 M4.6 8.4 H9.6" stroke="#4d4d4d" stroke-width="1.5" stroke-linecap="round"/></svg>
<div class="t" style="font-size:16px;color:#383838;top:496.66px;letter-spacing:0.614px;-webkit-text-stroke:0.25px #383838;left:740.00px;">Today at 5:20 a.m</div>
<div class="t" style="font-size:16px;color:#383838;top:496.66px;letter-spacing:0.550px;-webkit-text-stroke:0.25px #383838;left:964.00px;">Floyd Miles</div>
<div class="t" style="font-size:16px;color:#444444;top:496.66px;letter-spacing:1.112px;-webkit-text-stroke:0.3px #444444;left:1180.70px;">$396.84</div>
<div class="b" style="left:1286.30px;top:495.40px;width:66.80px;height:22.80px;border-radius:8px;background:#f2f2f2"></div>
<div class="b" style="left:1292.60px;top:501.50px;width:10.40px;height:10.40px;border-radius:3px;background:#8c8c8c"></div>
<div class="t" style="font-size:15px;color:#6e6e6e;top:496.80px;letter-spacing:0.160px;-webkit-text-stroke:0.3px #6e6e6e;left:1312.00px;">Paid</div>
<div class="b" style="left:1488.80px;top:495.20px;width:110.60px;height:23.40px;border-radius:8px;background:#ffec7e"></div>
<div class="b" style="left:1496.40px;top:501.50px;width:10.40px;height:10.40px;border-radius:3.6px;border:2.2px solid #b09a10"></div>
<div class="t" style="font-size:15px;color:#4d4503;top:497.00px;letter-spacing:0.664px;-webkit-text-stroke:0.6px #4d4503;left:1515.40px;">Unfulfilled</div>
<div class="t" style="font-size:16px;color:#383838;top:496.66px;letter-spacing:0.689px;-webkit-text-stroke:0.25px #383838;left:1691.30px;">2 items</div>
<div class="b" style="left:498.80px;top:566.00px;width:1319.60px;height:1.00px;background:#e8e8e8"></div>
<div class="b" style="left:512.60px;top:537.15px;width:20.20px;height:20.20px;border-radius:5.5px;background:#fff;border:1.4px solid #c2c2c2"></div>
<div class="t" style="font-size:15.8px;color:#2e2e2e;top:536.78px;letter-spacing:0.998px;-webkit-text-stroke:0.75px #2e2e2e;transform:scaleX(1.06);transform-origin:0 0;left:560.50px;">#2048</div>
<svg class="b" style="left:629.20px;top:538.45px" width="16.2" height="15.8" viewBox="0 0 16.2 15.8" ><path d="M3.4 0.9 H12.8 C14.3 0.9 15.3 1.9 15.3 3.4 V9.6 L10 14.9 H3.4 C1.9 14.9 0.9 13.9 0.9 12.4 V3.4 C0.9 1.9 1.9 0.9 3.4 0.9 Z" fill="none" stroke="#4d4d4d" stroke-width="1.7" stroke-linejoin="round"/><path d="M15.3 9.6 H11.8 C10.8 9.6 10 10.4 10 11.4 V14.9" fill="none" stroke="#4d4d4d" stroke-width="1.7" stroke-linejoin="round"/><path d="M4.2 4.6 H11.6 M4.2 7.6 H7.4" stroke="#4d4d4d" stroke-width="1.5" stroke-linecap="round"/></svg>
<svg class="b" style="left:659.00px;top:539.85px" width="17.4" height="15.6" viewBox="0 0 17.4 15.6" ><path d="M5.2 0.9 H12.2 C14.9 0.9 16.5 2.9 16.5 5.4 V8.2 C16.5 10.7 14.9 12.6 12.2 12.6 H7.4 L4.2 14.7 C3.7 15 3.2 14.6 3.4 14.1 L3.9 12.4 C2 11.9 0.9 10.2 0.9 8.2 V5.4 C0.9 2.9 2.5 0.9 5.2 0.9 Z" fill="none" stroke="#4d4d4d" stroke-width="1.7" stroke-linejoin="round"/><path d="M4.6 5.1 H12.2 M4.6 8.4 H9.6" stroke="#4d4d4d" stroke-width="1.5" stroke-linecap="round"/></svg>
<div class="t" style="font-size:16px;color:#383838;top:536.71px;letter-spacing:0.376px;-webkit-text-stroke:0.25px #383838;left:740.00px;">Today at 5:11 a.m</div>
<div class="t" style="font-size:16px;color:#383838;top:536.71px;letter-spacing:0.555px;-webkit-text-stroke:0.25px #383838;left:964.00px;">Cody Fisher</div>
<div class="t" style="font-size:16px;color:#444444;top:536.71px;letter-spacing:0.954px;-webkit-text-stroke:0.3px #444444;left:1191.50px;">$98.99</div>
<div class="b" style="left:1285.00px;top:534.75px;width:163.80px;height:23.60px;border-radius:8px;background:#ffd7a6"></div>
<div class="b" style="left:1293.00px;top:541.55px;width:10.20px;height:10.20px;border-radius:3.4px;border:2.2px solid #d39a1a"></div>
<div class="t" style="font-size:15px;color:#5b4106;top:536.65px;letter-spacing:0.590px;-webkit-text-stroke:0.55px #5b4106;left:1311.80px;">Payment pending</div>
<div class="b" style="left:1488.80px;top:535.25px;width:91.40px;height:23.40px;border-radius:8px;background:#ffec7e"></div>
<div class="b" style="left:1496.40px;top:541.55px;width:10.40px;height:10.40px;border-radius:3.6px;border:2.2px solid #b09a10"></div>
<div class="t" style="font-size:15px;color:#4d4503;top:537.05px;letter-spacing:0.411px;-webkit-text-stroke:0.6px #4d4503;left:1515.40px;">On hold</div>
<div class="t" style="font-size:16px;color:#383838;top:536.71px;letter-spacing:0.286px;-webkit-text-stroke:0.25px #383838;left:1691.30px;">1 item</div>
<div class="b" style="left:498.80px;top:607.00px;width:1319.60px;height:1.00px;background:#e8e8e8"></div>
<div class="b" style="left:512.60px;top:577.45px;width:20.20px;height:20.20px;border-radius:5.5px;background:#fff;border:1.4px solid #c2c2c2"></div>
<div class="t" style="font-size:15.8px;color:#2e2e2e;top:577.08px;letter-spacing:0.998px;-webkit-text-stroke:0.75px #2e2e2e;transform:scaleX(1.06);transform-origin:0 0;left:560.50px;">#2047</div>
<div class="t" style="font-size:16px;color:#383838;top:577.01px;letter-spacing:0.551px;-webkit-text-stroke:0.25px #383838;left:740.00px;">Today at 1:44 a.m</div>
<div class="t" style="font-size:16px;color:#383838;top:577.01px;letter-spacing:0.442px;-webkit-text-stroke:0.25px #383838;left:964.00px;">Ralph Edwards</div>
<div class="t" style="font-size:16px;color:#444444;top:577.01px;letter-spacing:1.112px;-webkit-text-stroke:0.3px #444444;left:1180.70px;">$396.84</div>
<div class="b" style="left:1286.30px;top:575.75px;width:66.80px;height:22.80px;border-radius:8px;background:#f2f2f2"></div>
<div class="b" style="left:1292.60px;top:581.85px;width:10.40px;height:10.40px;border-radius:3px;background:#8c8c8c"></div>
<div class="t" style="font-size:15px;color:#6e6e6e;top:577.15px;letter-spacing:0.160px;-webkit-text-stroke:0.3px #6e6e6e;left:1312.00px;">Paid</div>
<div class="b" style="left:1488.80px;top:575.55px;width:110.60px;height:23.40px;border-radius:8px;background:#ffec7e"></div>
<div class="b" style="left:1496.40px;top:581.85px;width:10.40px;height:10.40px;border-radius:3.6px;border:2.2px solid #b09a10"></div>
<div class="t" style="font-size:15px;color:#4d4503;top:577.35px;letter-spacing:0.664px;-webkit-text-stroke:0.6px #4d4503;left:1515.40px;">Unfulfilled</div>
<div class="t" style="font-size:16px;color:#383838;top:577.01px;letter-spacing:0.689px;-webkit-text-stroke:0.25px #383838;left:1691.30px;">2 items</div>
<div class="b" style="left:498.80px;top:647.00px;width:1319.60px;height:1.00px;background:#e8e8e8"></div>
<div class="b" style="left:512.60px;top:617.95px;width:20.20px;height:20.20px;border-radius:5.5px;background:#fff;border:1.4px solid #c2c2c2"></div>
<div class="t" style="font-size:15.8px;color:#2e2e2e;top:617.58px;letter-spacing:0.998px;-webkit-text-stroke:0.75px #2e2e2e;transform:scaleX(1.06);transform-origin:0 0;left:560.50px;">#2046</div>
<svg class="b" style="left:629.20px;top:619.25px" width="16.2" height="15.8" viewBox="0 0 16.2 15.8" ><path d="M3.4 0.9 H12.8 C14.3 0.9 15.3 1.9 15.3 3.4 V9.6 L10 14.9 H3.4 C1.9 14.9 0.9 13.9 0.9 12.4 V3.4 C0.9 1.9 1.9 0.9 3.4 0.9 Z" fill="none" stroke="#4d4d4d" stroke-width="1.7" stroke-linejoin="round"/><path d="M15.3 9.6 H11.8 C10.8 9.6 10 10.4 10 11.4 V14.9" fill="none" stroke="#4d4d4d" stroke-width="1.7" stroke-linejoin="round"/><path d="M4.2 4.6 H11.6 M4.2 7.6 H7.4" stroke="#4d4d4d" stroke-width="1.5" stroke-linecap="round"/></svg>
<div class="t" style="font-size:16px;color:#383838;top:617.51px;letter-spacing:0.535px;-webkit-text-stroke:0.25px #383838;left:740.00px;">Yesterday at 11:55 p.m</div>
<div class="t" style="font-size:16px;color:#383838;top:617.51px;letter-spacing:0.605px;-webkit-text-stroke:0.25px #383838;left:964.00px;">Theresa Webb</div>
<div class="t" style="font-size:16px;color:#444444;top:617.51px;letter-spacing:0.954px;-webkit-text-stroke:0.3px #444444;left:1191.50px;">$98.99</div>
<div class="b" style="left:1286.30px;top:616.25px;width:66.80px;height:22.80px;border-radius:8px;background:#f2f2f2"></div>
<div class="b" style="left:1292.60px;top:622.35px;width:10.40px;height:10.40px;border-radius:3px;background:#8c8c8c"></div>
<div class="t" style="font-size:15px;color:#6e6e6e;top:617.65px;letter-spacing:0.160px;-webkit-text-stroke:0.3px #6e6e6e;left:1312.00px;">Paid</div>
<div class="b" style="left:1488.80px;top:616.05px;width:110.60px;height:23.40px;border-radius:8px;background:#ffec7e"></div>
<div class="b" style="left:1496.40px;top:622.35px;width:10.40px;height:10.40px;border-radius:3.6px;border:2.2px solid #b09a10"></div>
<div class="t" style="font-size:15px;color:#4d4503;top:617.85px;letter-spacing:0.664px;-webkit-text-stroke:0.6px #4d4503;left:1515.40px;">Unfulfilled</div>
<div class="t" style="font-size:16px;color:#383838;top:617.51px;letter-spacing:0.286px;-webkit-text-stroke:0.25px #383838;left:1691.30px;">1 item</div>
<div class="b" style="left:498.80px;top:687.00px;width:1319.60px;height:1.00px;background:#e8e8e8"></div>
<div class="b" style="left:512.60px;top:658.40px;width:20.20px;height:20.20px;border-radius:5.5px;background:#fff;border:1.4px solid #c2c2c2"></div>
<div class="b" style="left:560.80px;top:663.40px;width:58.00px;height:10.00px;border-radius:5px;background:#ececec"></div>
<div class="b" style="left:740.60px;top:663.40px;width:129.40px;height:10.00px;border-radius:5px;background:#ececec"></div>
<div class="b" style="left:964.80px;top:663.40px;width:116.40px;height:10.00px;border-radius:5px;background:#ececec"></div>
<div class="b" style="left:1190.50px;top:663.40px;width:58.60px;height:10.00px;border-radius:5px;background:#ececec"></div>
<div class="b" style="left:1692.30px;top:663.40px;width:47.40px;height:10.00px;border-radius:5px;background:#ececec"></div>
<div class="b" style="left:1285.80px;top:656.80px;width:67.00px;height:23.00px;border-radius:8px;background:#f5f5f5"></div>
<div class="b" style="left:1292.80px;top:663.00px;width:10.60px;height:10.60px;border-radius:3.4px;background:#8c8c8c"></div>
<div class="b" style="left:1489.40px;top:656.80px;width:129.60px;height:23.00px;border-radius:8px;background:#f5f5f5"></div>
<div class="b" style="left:1496.20px;top:663.00px;width:10.60px;height:10.60px;border-radius:3.4px;background:#8c8c8c"></div>
<div class="b" style="left:498.80px;top:728.00px;width:1319.60px;height:1.00px;background:#e8e8e8"></div>
<div class="b" style="left:512.60px;top:698.80px;width:20.20px;height:20.20px;border-radius:5.5px;background:#fff;border:1.4px solid #c2c2c2"></div>
<div class="b" style="left:560.80px;top:703.80px;width:58.00px;height:10.00px;border-radius:5px;background:#ececec"></div>
<div class="b" style="left:740.60px;top:703.80px;width:129.40px;height:10.00px;border-radius:5px;background:#ececec"></div>
<div class="b" style="left:964.80px;top:703.80px;width:116.40px;height:10.00px;border-radius:5px;background:#ececec"></div>
<div class="b" style="left:1190.50px;top:703.80px;width:58.60px;height:10.00px;border-radius:5px;background:#ececec"></div>
<div class="b" style="left:1692.30px;top:703.80px;width:47.40px;height:10.00px;border-radius:5px;background:#ececec"></div>
<div class="b" style="left:1285.80px;top:697.20px;width:67.00px;height:23.00px;border-radius:8px;background:#f5f5f5"></div>
<div class="b" style="left:1292.80px;top:703.40px;width:10.60px;height:10.60px;border-radius:3.4px;background:#8c8c8c"></div>
<div class="b" style="left:1489.40px;top:697.20px;width:129.60px;height:23.00px;border-radius:8px;background:#f5f5f5"></div>
<div class="b" style="left:1496.20px;top:703.40px;width:10.60px;height:10.60px;border-radius:3.4px;background:#8c8c8c"></div>
<div class="b" style="left:498.80px;top:768.00px;width:1319.60px;height:1.00px;background:#e8e8e8"></div>
<div class="b" style="left:512.60px;top:739.20px;width:20.20px;height:20.20px;border-radius:5.5px;background:#fff;border:1.4px solid #c2c2c2"></div>
<div class="b" style="left:560.80px;top:744.20px;width:58.00px;height:10.00px;border-radius:5px;background:#ececec"></div>
<div class="b" style="left:740.60px;top:744.20px;width:129.40px;height:10.00px;border-radius:5px;background:#ececec"></div>
<div class="b" style="left:964.80px;top:744.20px;width:116.40px;height:10.00px;border-radius:5px;background:#ececec"></div>
<div class="b" style="left:1190.50px;top:744.20px;width:58.60px;height:10.00px;border-radius:5px;background:#ececec"></div>
<div class="b" style="left:1692.30px;top:744.20px;width:47.40px;height:10.00px;border-radius:5px;background:#ececec"></div>
<div class="b" style="left:1285.80px;top:737.60px;width:67.00px;height:23.00px;border-radius:8px;background:#f5f5f5"></div>
<div class="b" style="left:1292.80px;top:743.80px;width:10.60px;height:10.60px;border-radius:3.4px;background:#8c8c8c"></div>
<div class="b" style="left:1489.40px;top:737.60px;width:129.60px;height:23.00px;border-radius:8px;background:#f5f5f5"></div>
<div class="b" style="left:1496.20px;top:743.80px;width:10.60px;height:10.60px;border-radius:3.4px;background:#8c8c8c"></div>
<div class="b" style="left:498.80px;top:809.00px;width:1319.60px;height:1.00px;background:#e8e8e8"></div>
<div class="b" style="left:512.60px;top:779.65px;width:20.20px;height:20.20px;border-radius:5.5px;background:#fff;border:1.4px solid #c2c2c2"></div>
<div class="b" style="left:560.80px;top:784.65px;width:58.00px;height:10.00px;border-radius:5px;background:#ececec"></div>
<div class="b" style="left:740.60px;top:784.65px;width:129.40px;height:10.00px;border-radius:5px;background:#ececec"></div>
<div class="b" style="left:964.80px;top:784.65px;width:116.40px;height:10.00px;border-radius:5px;background:#ececec"></div>
<div class="b" style="left:1190.50px;top:784.65px;width:58.60px;height:10.00px;border-radius:5px;background:#ececec"></div>
<div class="b" style="left:1692.30px;top:784.65px;width:47.40px;height:10.00px;border-radius:5px;background:#ececec"></div>
<div class="b" style="left:1285.80px;top:778.05px;width:67.00px;height:23.00px;border-radius:8px;background:#f5f5f5"></div>
<div class="b" style="left:1292.80px;top:784.25px;width:10.60px;height:10.60px;border-radius:3.4px;background:#8c8c8c"></div>
<div class="b" style="left:1489.40px;top:778.05px;width:129.60px;height:23.00px;border-radius:8px;background:#f5f5f5"></div>
<div class="b" style="left:1496.20px;top:784.25px;width:10.60px;height:10.60px;border-radius:3.4px;background:#8c8c8c"></div>
<div class="b" style="left:498.80px;top:850.00px;width:1319.60px;height:1.00px;background:#e8e8e8"></div>
<div class="b" style="left:512.60px;top:820.30px;width:20.20px;height:20.20px;border-radius:5.5px;background:#fff;border:1.4px solid #c2c2c2"></div>
<div class="b" style="left:560.80px;top:825.30px;width:58.00px;height:10.00px;border-radius:5px;background:#ececec"></div>
<div class="b" style="left:740.60px;top:825.30px;width:129.40px;height:10.00px;border-radius:5px;background:#ececec"></div>
<div class="b" style="left:964.80px;top:825.30px;width:116.40px;height:10.00px;border-radius:5px;background:#ececec"></div>
<div class="b" style="left:1190.50px;top:825.30px;width:58.60px;height:10.00px;border-radius:5px;background:#ececec"></div>
<div class="b" style="left:1692.30px;top:825.30px;width:47.40px;height:10.00px;border-radius:5px;background:#ececec"></div>
<div class="b" style="left:1285.80px;top:818.70px;width:67.00px;height:23.00px;border-radius:8px;background:#f5f5f5"></div>
<div class="b" style="left:1292.80px;top:824.90px;width:10.60px;height:10.60px;border-radius:3.4px;background:#8c8c8c"></div>
<div class="b" style="left:1489.40px;top:818.70px;width:129.60px;height:23.00px;border-radius:8px;background:#f5f5f5"></div>
<div class="b" style="left:1496.20px;top:824.90px;width:10.60px;height:10.60px;border-radius:3.4px;background:#8c8c8c"></div>
<svg class="b" style="left:780px;top:695px;filter:drop-shadow(0 1.5px 1.5px rgba(0,0,0,.28))" width="100" height="89.96" viewBox="0 0 956 860"><path d="M350 440 L325 225 C320 190 345 175 365 178 C390 180 402 200 408 225 L435 375 C440 330 455 305 478 305 C505 305 518 335 522 375 C530 335 555 312 585 315 C615 320 625 350 628 385 C640 355 660 342 678 348 C700 355 708 390 705 430 C704 480 695 520 672 560 C650 595 635 625 632 690 L592 690 L547 640 L500 690 L398 690 C398 660 392 640 370 615 L250 465 C225 435 215 410 235 390 C255 370 285 380 305 400 Z" fill="#fff" stroke="#141414" stroke-width="22" stroke-linejoin="round"/><path d="M462 478 V585 M527 472 V585 M595 472 V585" fill="none" stroke="#141414" stroke-width="17" stroke-linecap="round"/></svg>
</div></div>
</body>
</html>
